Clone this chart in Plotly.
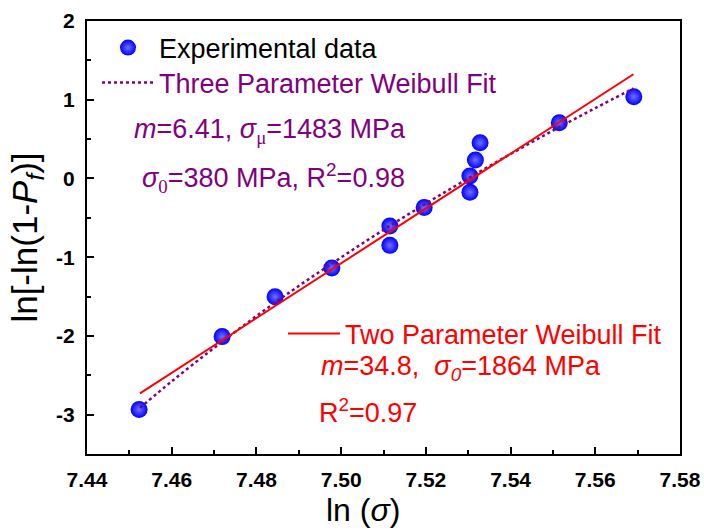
import plotly.graph_objects as go

# Experimental data (ln sigma, ln[-ln(1-Pf)])
exp_x = [7.4523, 7.4719, 7.4844, 7.4978, 7.5115, 7.5115, 7.5196, 7.5304, 7.5304, 7.5317, 7.5328, 7.5515, 7.5691]
exp_y = [-2.934, -2.009, -1.502, -1.137, -0.605, -0.850, -0.370, 0.030, -0.175, 0.234, 0.454, 0.707, 1.038]

# Two parameter Weibull fit (straight line endpoints)
two_x = [7.4525, 7.5690]
two_y = [-2.731, 1.324]

# Three parameter Weibull fit (curve)
three_x = [7.4525, 7.46, 7.47, 7.48, 7.49, 7.50, 7.51, 7.52, 7.53, 7.54, 7.55, 7.56, 7.569]
three_y = [-2.914, -2.577, -2.153, -1.748, -1.365, -1.003, -0.653, -0.319, 0.001, 0.310, 0.608, 0.894, 1.143]

x_range = [7.44, 7.58]
y_range = [-3.5, 2]
y_tickvals = [-3, -2, -1, 0, 1, 2]
y_ticklabels = ["-3", "-2", "-1", "0", "1", "2"]

PURPLE = "#800080"
RED = "#ff0000"
FONT = "Arial, Liberation Sans, sans-serif"
BOLD_FONT = "Liberation Sans"
SERIF = "Liberation Serif, Times New Roman, serif"

fig = go.Figure()

fig.add_trace(go.Scatter(
    x=exp_x, y=exp_y, mode="markers",
    name="<span style='color:#000000'>Experimental data</span>",
    marker=dict(size=17, color="#0000ff",
                gradient=dict(type="radial", color="#7070ff"),
                line=dict(width=0)),
    legend="legend",
))
fig.add_trace(go.Scatter(
    x=three_x, y=three_y, mode="lines",
    name="<span style='color:%s'>Three Parameter Weibull Fit</span>" % PURPLE,
    line=dict(color=PURPLE, width=2.5, dash="dot", shape="spline"),
    legend="legend3",
))
fig.add_trace(go.Scatter(
    x=two_x, y=two_y, mode="lines",
    name="<span style='color:%s'>Two Parameter Weibull Fit</span>" % RED,
    line=dict(color=RED, width=2),
    legend="legend2",
))

axis_common = dict(
    showline=True, linecolor="black", linewidth=2, mirror=True,
    ticks="inside", ticklen=7, tickwidth=2, tickcolor="black",
    showgrid=False, zeroline=False, automargin=False,
    tickfont=dict(family=BOLD_FONT, size=21, color="black", weight="bold"),
)

fig.update_xaxes(
    range=x_range, dtick=0.02, tick0=7.44, tickformat=".2f",
    minor=dict(ticks="inside", ticklen=4, tickwidth=1.5, tickcolor="black", dtick=0.01),
    ticklabelstandoff=6,
    **axis_common,
)
fig.update_yaxes(
    range=y_range,
    tickvals=y_tickvals, ticktext=y_ticklabels,
    minor=dict(ticks="inside", ticklen=4, tickwidth=1.5, tickcolor="black", dtick=0.5),
    ticklabelstandoff=6,
    title=dict(text="ln[-ln(1-<i>P</i><sub><i>f</i></sub>)]",
               font=dict(family=FONT, size=35, color="black"), standoff=8),
    **axis_common,
)

legend_font = dict(family=FONT, size=27)
leg_common = dict(xanchor="left", yanchor="middle", bgcolor="rgba(0,0,0,0)",
                  font=legend_font, itemwidth=52, visible=True)


def px_x(px):
    return (px - 87) / 593


def px_y(py):
    return 1 - (py - 21) / 433


fig.update_layout(
    width=704, height=530, autosize=False,
    margin=dict(l=87, r=24, t=21, b=76),
    plot_bgcolor="white", paper_bgcolor="white",
    showlegend=True,
    legend=dict(x=px_x(97), y=px_y(48), **leg_common),
    legend3=dict(x=px_x(97), y=px_y(83), **leg_common),
    legend2=dict(x=px_x(283), y=px_y(334), **leg_common),
)

ann_font_p = dict(family=FONT, size=27, color=PURPLE)
ann_font_r = dict(family=FONT, size=27, color=RED)
annotations = [
    dict(text="<i>m</i>=6.41, <i>σ</i><sub><span style='font-family:%s'>μ</span></sub>=1483 MPa" % SERIF,
         x=133, y=131, font=ann_font_p, anchor="left"),
    dict(text="<i>σ</i><sub><span style='font-family:%s'>0</span></sub>=380 MPa, R<sup>2</sup>=0.98" % SERIF,
         x=141, y=178, font=ann_font_p, anchor="left"),
    dict(text="<i>m</i>=34.8,  <i>σ<sub>0</sub></i>=1864 MPa",
         x=320, y=368, font=ann_font_r, anchor="left"),
    dict(text="R<sup>2</sup>=0.97", x=318, y=411, font=ann_font_r, anchor="left"),
    # x-axis title
    dict(text="ln (<i>σ</i>)", x=363, y=510,
         font=dict(family=FONT, size=32, color="black"), anchor="center"),
]
for a in annotations:
    fig.add_annotation(
        text=a["text"], xref="paper", yref="paper",
        x=px_x(a["x"]), y=px_y(a["y"]),
        xanchor=a["anchor"], yanchor="middle", showarrow=False, font=a["font"],
        borderpad=0,
    )

fig.write_html("out.html")
